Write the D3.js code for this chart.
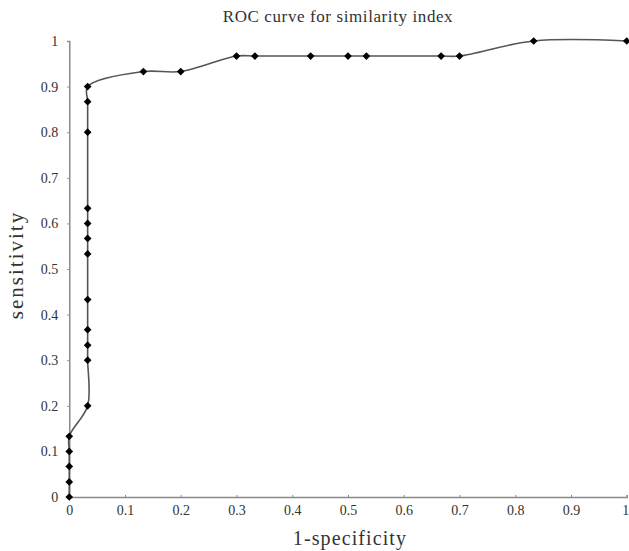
<!DOCTYPE html>
<html><head><meta charset="utf-8">
<script src="https://cdn.jsdelivr.net/npm/d3@7"></script>
<style>body{margin:0;background:#fff}svg{display:block}</style>
</head><body>
<svg id="c" width="629" height="551"></svg>
<script>
const fpr = [0,0,0,0,0,0.033,0.033,0.033,0.033,0.033,0.033,0.033,0.033,0.033,0.033,0.033,0.033,0.133,0.2,0.3,0.333,0.433,0.5,0.533,0.667,0.7,0.833,1];
const tpr = [0,0.033,0.067,0.1,0.133,0.2,0.3,0.333,0.367,0.433,0.533,0.567,0.6,0.633,0.8,0.867,0.9,0.933,0.933,0.967,0.967,0.967,0.967,0.967,0.967,0.967,1,1];
const xTicks = [0,0.1,0.2,0.3,0.4,0.5,0.6,0.7,0.8,0.9,1];
const yTicks = [0,0.1,0.2,0.3,0.4,0.5,0.6,0.7,0.8,0.9,1];
const title = "ROC curve for similarity index";
const xLabel = "1-specificity";
const yLabel = "sensitivity";

const svg = d3.select("#c");
const x = d3.scaleLinear().domain([0,1]).range([69.25,626.75]);
const y = d3.scaleLinear().domain([0,1]).range([497,41]);
const font = "'Liberation Serif', 'Times New Roman', serif";
const axisCol = "#8a8a8a";

// axes
const xa = svg.append("g").attr("transform",`translate(0,${y(0)})`)
  .call(d3.axisBottom(x).tickValues(xTicks).tickSize(-2).tickPadding(6).tickFormat(d=>String(d)));
const ya = svg.append("g").attr("transform",`translate(${x(0)},0)`)
  .call(d3.axisLeft(y).tickValues(yTicks).tickSize(2).tickPadding(9).tickFormat(d=>String(d)));
[xa,ya].forEach(a=>{
  a.select(".domain").attr("stroke",axisCol).attr("stroke-width",1.5);
  a.selectAll(".tick line").attr("stroke",axisCol);
  a.selectAll(".tick text").attr("font-family",font).attr("font-size",14).attr("fill","#333");
});
xa.selectAll(".tick text").attr("dy","0.85em");
xa.selectAll(".tick text").filter(d=>d===1).attr("text-anchor","end").attr("dx",2);

// line
const pts = fpr.map((v,i)=>[v,tpr[i]]);
svg.append("path").datum(pts)
  .attr("d", d3.line().x(d=>x(d[0])).y(d=>y(d[1])).curve(d3.curveCatmullRom.alpha(0.5)))
  .attr("fill","none").attr("stroke","#555").attr("stroke-width",1.6);

// markers
svg.append("g").selectAll("path").data(pts).join("path")
  .attr("transform",d=>`translate(${x(d[0])},${y(d[1])})`)
  .attr("d", d3.symbol(d3.symbolDiamond2, 38)())
  .attr("fill","#000");

// texts
svg.append("text").attr("x",338).attr("y",22).attr("text-anchor","middle")
  .attr("font-family",font).attr("font-size",17).attr("letter-spacing",0.6).attr("fill","#333").text(title);
svg.append("text").attr("x",350).attr("y",545).attr("text-anchor","middle")
  .attr("font-family",font).attr("font-size",20).attr("letter-spacing",1.1).attr("fill","#333").text(xLabel);
svg.append("text").attr("transform","translate(23,265) rotate(-90)").attr("text-anchor","middle")
  .attr("font-family",font).attr("font-size",21).attr("letter-spacing",2).attr("fill","#333").text(yLabel);
</script>
</body></html>
